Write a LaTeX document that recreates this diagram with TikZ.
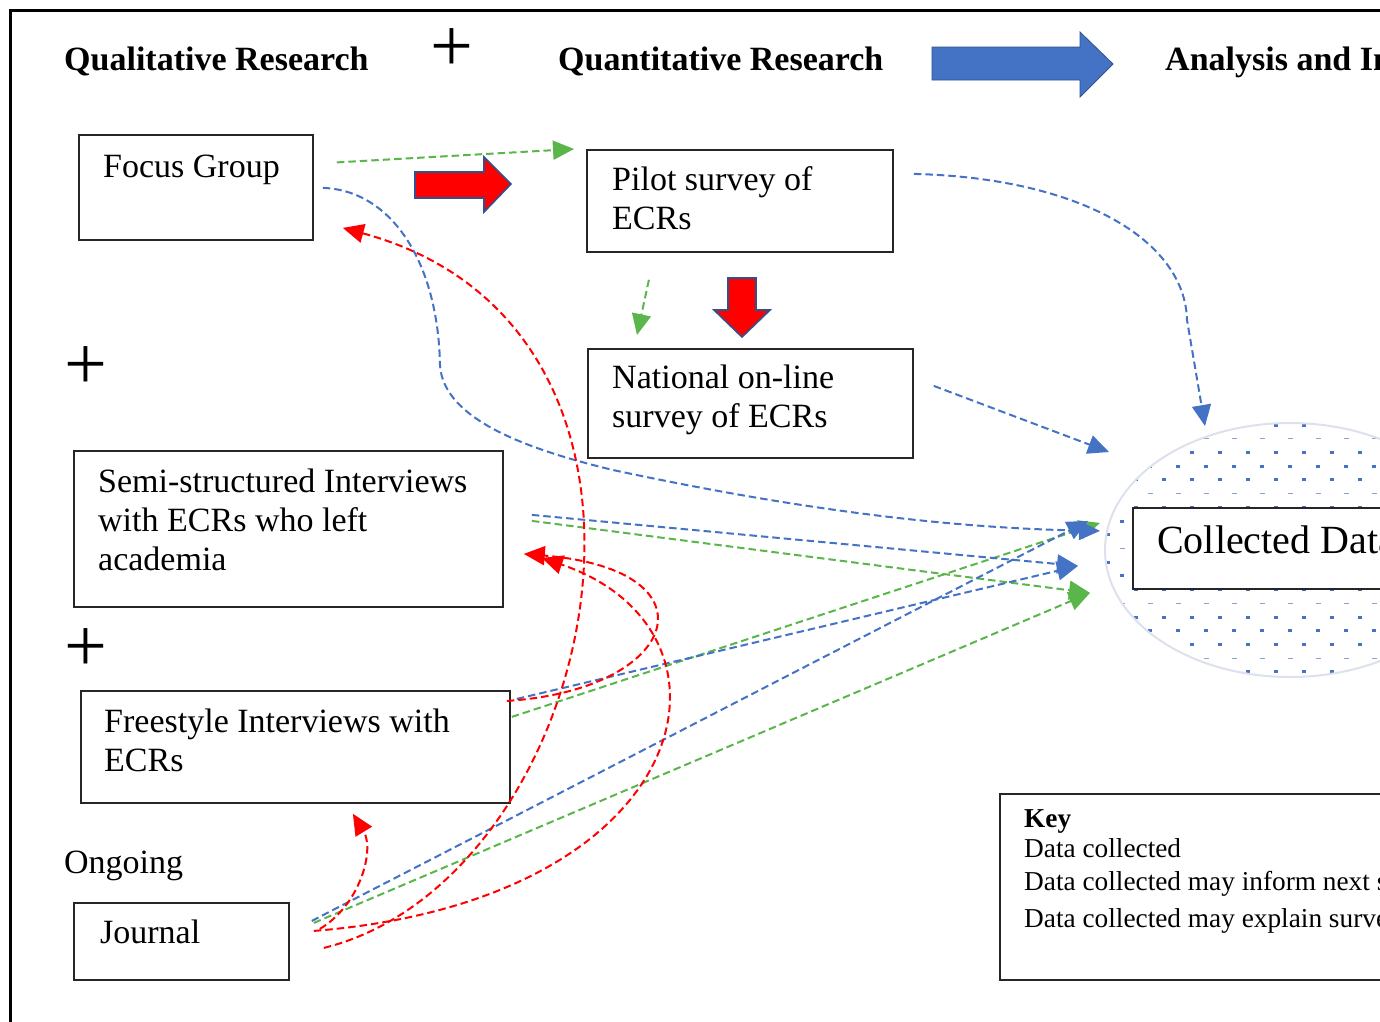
\documentclass[tikz,border=0pt]{standalone}
\usepackage{fontspec}
\setmainfont{Liberation Serif}
\usetikzlibrary{arrows.meta,calc,shapes.geometric}

\definecolor{lineblue}{RGB}{68,114,196}
\definecolor{linegreen}{RGB}{90,182,74}
\definecolor{linered}{RGB}{255,0,0}
\definecolor{arrowedge}{RGB}{47,82,143}
\definecolor{rimgrey}{RGB}{220,225,236}
\definecolor{dashblue}{RGB}{140,162,212}

% several lines of text, the node's base is the first line's baseline
\newcommand{\stacktext}[1]{\begin{tabular}[t]{@{}l@{}}#1\end{tabular}}

\begin{document}
\begin{tikzpicture}[x=1pt,y=-1pt,
  box/.style={draw=black!85, line width=1.8pt, anchor=north west, inner sep=0pt},
  label/.style={anchor=base west, inner sep=0pt, text=black, font=\fontsize{34}{39}\selectfont},
  heading/.style={label, font=\fontsize{34}{39}\selectfont\bfseries},
  plussign/.style={inner sep=0pt, text=black, font=\fontsize{76}{80}\selectfont},
  flow/.style={line width=2pt, dash pattern=on 7.5pt off 4pt, -{Triangle[length=21pt,width=19pt]}},
  gflow/.style={flow, draw=linegreen},
  bflow/.style={flow, draw=lineblue},
  rflow/.style={flow, draw=linered},
  blockred/.style={fill=linered, draw=arrowedge, line width=1.6pt, line join=miter},
  blockblue/.style={fill=lineblue, draw=arrowedge, line width=0.8pt, line join=miter}
]
\useasboundingbox (0,0) rectangle (1380,1021);
\clip (0,0) rectangle (1380,1021);
\fill[white] (0,0) rectangle (1380,1021);

% outer frame
\draw[line width=3pt] (10.5,1040) -- (10.5,10) -- (1400,10);

% dotted ellipse holding the collected data
\begin{scope}
  \clip (1290,550) ellipse [x radius=185, y radius=127];
  \foreach \k in {0,...,18}{
    \pgfmathsetmacro{\yy}{425+13.72*\k}
    \pgfmathtruncatemacro{\ph}{mod(\k,4)}
    \pgfmathsetmacro{\xo}{isodd(\k) ? 1122 : 1108}
    \foreach \m in {0,...,10}{
      \ifnum\ph=1
        \fill[dashblue] ({\xo+28*\m-2.5},{\yy-0.7}) rectangle ++(5,1.4);
      \else
        \fill[lineblue] ({\xo+28*\m-1.7},{\yy-1.5}) rectangle ++(3.4,3);
      \fi
    }
  }
\end{scope}
\node[draw=rimgrey, line width=2pt, ellipse, minimum width=370pt, minimum height=254pt, inner sep=0pt] (pool) at (1290,550) {};

% boxes
\node[box, minimum width=234pt, minimum height=105pt] (fg) at (78,134) {};
\node[box, minimum width=306pt, minimum height=102pt] (pilot) at (586,149) {};
\node[box, minimum width=325pt, minimum height=109pt] (nat) at (587,348) {};
\node[box, minimum width=429pt, minimum height=156pt] (semi) at (73,450) {};
\node[box, minimum width=429pt, minimum height=112pt] (free) at (80,690) {};
\node[box, minimum width=215pt, minimum height=77pt] (jour) at (73,902) {};
\node[box, fill=white, minimum width=290pt, minimum height=81pt] (coll) at (1132,507) {};
\node[box, minimum width=420pt, minimum height=186pt] (key) at (999,793) {};

% headings
\node[heading] (qual) at (64,70) {Qualitative Research};
\node[heading] (quan) at (558,70) {Quantitative Research};
\node[heading] (anal) at (1165,70) {Analysis and In};
\node[plussign] (plusA) at (452,50) {+};
\node[plussign] (plusB) at (86,368) {+};
\node[plussign] (plusC) at (86,650) {+};
\node[label] (ongo) at (64,873) {Ongoing};

% box texts
\node[label] (fgt) at (103,177) {Focus Group};
\node[label] (pilott) at (612,190) {\stacktext{Pilot survey of\\ECRs}};
\node[label] (natt) at (612,388) {\stacktext{National on-line\\survey of ECRs}};
\node[label] (semit) at (98,492) {\stacktext{Semi-structured Interviews\\with ECRs who left\\academia}};
\node[label] (freet) at (104,732) {\stacktext{Freestyle Interviews with\\ECRs}};
\node[label] (jourt) at (100,943) {Journal};
\node[label, font=\fontsize{40}{46}\selectfont] (collt) at (1157,553) {Collected Data};
\node[label, font=\fontsize{27.3}{30}\selectfont] (keyt) at (1024,827)
  {\stacktext{\textbf{Key}\\Data collected\\[3pt]Data collected may inform next s\\[7pt]Data collected may explain surve}};

% block arrows
\draw[blockblue] (932,47) -- (1080,47) -- (1080,32) -- (1113,64) -- (1080,97) -- (1080,80) -- (932,80) -- cycle;
\draw[blockred] (415,172) -- (484,172) -- (484,157) -- (511,184) -- (484,212) -- (484,198) -- (415,198) -- cycle;
\draw[blockred] (728,278) -- (756,278) -- (756,310) -- (770,310) -- (742,337) -- (714,310) -- (728,310) -- cycle;

% green: data collected may inform the next stage
\draw[gflow] ($(fg.east)+(23,-25)$) -- ($(pilot.north west)+(-12,0)$);
\draw[gflow] ($(pilot.south)+(-91,27)$) -- ($(nat.north west)+(50,-13)$);
\draw[gflow] ($(semi.east)+(28,-8)$) -- ($(coll.west)+(-42,44.5)$);
\draw[gflow] ($(free.east)+(1,-30)$) -- ($(coll.west)+(-32,-25.5)$);
\draw[gflow] ($(jour.east)+(24,-18.5)$) -- ($(coll.west)+(-42,44.5)$);

% blue: data collected
\draw[bflow] ($(fg.east)+(9,0.5)$) .. controls (390,190) and (438,260) .. (440,365)
  .. controls (443,420) and (530,450) .. (613,470)
  .. controls (800,510) and (950,528) .. ($(coll.west)+(-32,-17.5)$);
\draw[bflow] ($(pilot.east)+(20,-27)$) .. controls (1080,178) and (1185,240) .. (1187,320)
  -- ($(pool.north)+(-85,4)$);
\draw[bflow] ($(nat.east)+(20,-17.5)$) -- ($(pool.west)+(5,-98)$);
\draw[bflow] ($(semi.east)+(28,-14)$) -- ($(coll.west)+(-54,17.5)$);
\draw[bflow] ($(free.east)+(6,-48)$) -- ($(coll.west)+(-54,17.5)$);
\draw[bflow] ($(jour.east)+(22,-20.5)$) -- ($(coll.west)+(-44,-27.5)$);

% red: data collected may explain survey results
\draw[rflow] ($(jour.east)+(34,6.5)$) .. controls (600,880) and (720,330) .. ($(fg.east)+(29,40.5)$);
\draw[rflow] ($(jour.east)+(24,-10.5)$) .. controls (700,900) and (755,630) .. ($(semi.east)+(38,29)$);
\draw[rflow] ($(free.east)+(-4,-46)$) .. controls (680,690) and (720,570) .. ($(semi.east)+(20,25)$);
\draw[rflow] ($(jour.east)+(30,-12.5)$) .. controls (360,905) and (375,850) .. ($(free.south)+(57.5,10)$);
\end{tikzpicture}
\end{document}
